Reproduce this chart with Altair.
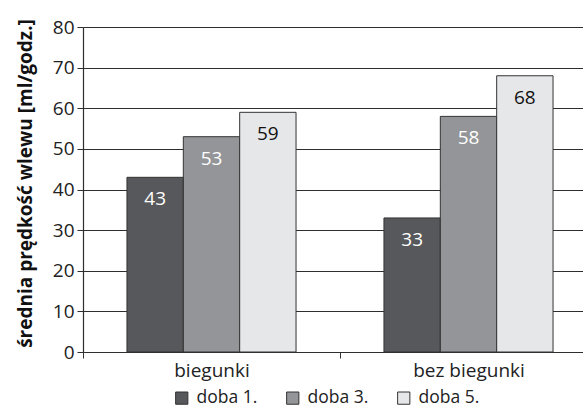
import altair as alt
import pandas as pd

# Groups on the x axis and the three measurement days
grupy = ["biegunki", "bez biegunki"]
serie = ["doba 1.", "doba 3.", "doba 5."]
wartosci_biegunki = [43, 53, 59]
wartosci_bez_biegunki = [33, 58, 68]

kolory = ["#57585b", "#939598", "#e6e7e8"]
FONT = "Open Sans"

rows = []
for grupa, vals in zip(grupy, [wartosci_biegunki, wartosci_bez_biegunki]):
    for s, v in zip(serie, vals):
        rows.append({"grupa": grupa, "seria": s, "wartosc": v})
df = pd.DataFrame(rows)

x_enc = alt.X(
    "grupa:N",
    sort=grupy,
    title=None,
    scale=alt.Scale(range=[0, 514], paddingInner=0, paddingOuter=0),
    axis=alt.Axis(
        domain=False,
        tickBand="extent",
        tickSize=6,
        tickColor="#333333",
        labelAngle=0,
        labelFont=FONT,
        labelFontSize=19,
        labelColor="#222222",
        labelPadding=3,
    ),
)
xoff_enc = alt.XOffset(
    "seria:N", sort=serie, scale=alt.Scale(paddingOuter=0.78, paddingInner=0)
)
y_enc = alt.Y(
    "wartosc:Q",
    title="średnia prędkość wlewu [ml/godz.]",
    scale=alt.Scale(domain=[0, 80]),
    axis=alt.Axis(
        values=[0, 10, 20, 30, 40, 50, 60, 70, 80],
        grid=True,
        gridColor="#2e2e2e",
        gridWidth=1.2,
        domainColor="#2e2e2e",
        domainWidth=1.2,
        tickColor="#2e2e2e",
        tickSize=6,
        labelFont=FONT,
        labelFontSize=19,
        labelColor="#222222",
        labelPadding=3,
        titleFont=FONT,
        titleFontSize=19,
        titleFontWeight="bold",
        titleColor="#111111",
        titlePadding=17,
        titleY=156,
    ),
)

bars = alt.Chart(df).mark_bar(stroke="#333333", strokeWidth=1).encode(
    x=x_enc,
    xOffset=xoff_enc,
    y=y_enc,
    color=alt.Color(
        "seria:N",
        sort=serie,
        scale=alt.Scale(domain=serie, range=kolory),
        legend=alt.Legend(
            title=None,
            orient="none",
            direction="horizontal",
            legendX=90,
            legendY=362,
            symbolType="square",
            symbolSize=150,
            symbolStrokeColor="#333333",
            symbolStrokeWidth=1,
            labelFont=FONT,
            labelFontSize=17.5,
            labelColor="#222222",
            columnPadding=26,
            labelOffset=6,
        ),
    ),
)

labels = alt.Chart(df).mark_text(
    font=FONT, fontSize=19, baseline="middle", dy=22
).encode(
    x=alt.X("grupa:N", sort=grupy),
    xOffset=alt.XOffset("seria:N", sort=serie),
    y=alt.Y("wartosc:Q"),
    text=alt.Text("wartosc:Q"),
    color=alt.condition(
        alt.datum.seria == "doba 5.", alt.value("#111111"), alt.value("#ffffff")
    ),
)

chart = (
    alt.layer(bars, labels)
    .properties(
        width=500,
        height=325,
        autosize=alt.AutoSizeParams(type="none"),
        padding={"left": 83, "top": 27, "right": 0, "bottom": 62},
        background="white",
    )
    .configure_view(strokeWidth=0)
)

chart.save("out.html", embed_options={"renderer": "svg", "actions": False})
